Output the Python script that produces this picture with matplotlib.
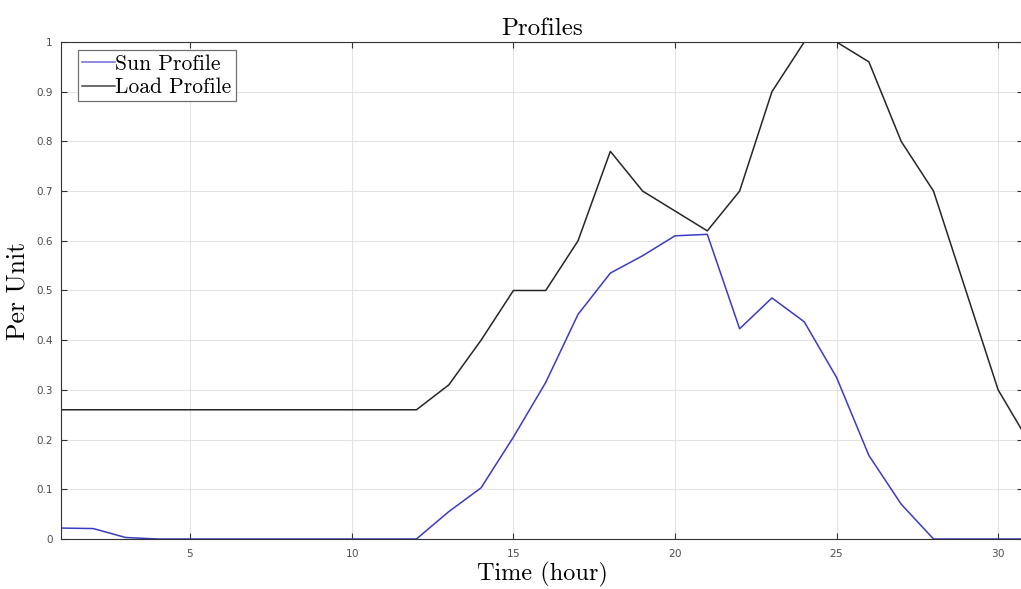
import matplotlib
matplotlib.use('Agg')
import matplotlib.pyplot as plt
import numpy as np

hours = np.arange(1, 32)
sun = [0.022, 0.021, 0.003, 0.0, 0.0, 0.0, 0.0, 0.0, 0.0, 0.0, 0.0, 0.0,
       0.055, 0.103, 0.205, 0.315, 0.452, 0.535, 0.570, 0.610, 0.613,
       0.423, 0.485, 0.437, 0.325, 0.168, 0.070, 0.0, 0.0, 0.0, 0.0]
load = [0.26, 0.26, 0.26, 0.26, 0.26, 0.26, 0.26, 0.26, 0.26, 0.26, 0.26, 0.26,
        0.31, 0.40, 0.50, 0.50, 0.60, 0.78, 0.70, 0.66, 0.62,
        0.70, 0.90, 1.00, 1.00, 0.96, 0.80, 0.70, 0.50, 0.30, 0.19]
xticks = [5, 10, 15, 20, 25, 30]
yticks = np.round(np.arange(0, 1.01, 0.1), 1)
ytick_labels = ['0', '0.1', '0.2', '0.3', '0.4', '0.5', '0.6', '0.7', '0.8', '0.9', '1']

serif = ['cmr10', 'DejaVu Serif']
plt.rcParams['axes.formatter.use_mathtext'] = True

fig = plt.figure(figsize=(10.21, 5.89), dpi=100)
fig.patch.set_facecolor('white')
ax = fig.add_axes([0.0597, 0.0849, 0.9423, 0.8438])

ax.plot(hours, sun, color='#3b3bc4', lw=1.1, label='Sun Profile')
ax.plot(hours, load, color='#262626', lw=1.1, label='Load Profile')

ax.set_xlim(1, 30.77)
ax.set_ylim(0, 1)
ax.set_xticks(xticks)
ax.set_yticks(yticks)
ax.set_yticklabels(ytick_labels)
ax.tick_params(direction='in', length=4, width=0.8, labelsize=7.5,
               labelcolor='#4d4d4d', color='#333333',
               top=True, right=True, pad=6)
ax.grid(True, color='#e3e3e3', lw=0.8)
ax.set_axisbelow(True)
for s in ax.spines.values():
    s.set_color('#333333')
    s.set_linewidth(0.8)

ax.set_title('Profiles', family=serif, fontsize=18, pad=5)
ax.set_xlabel('Time (hour)', family=serif, fontsize=17.5, labelpad=2)
ax.set_ylabel('Per Unit', family=serif, fontsize=18.5, labelpad=5)

leg = ax.legend(loc='upper left', bbox_to_anchor=(0.0175, 0.984),
                prop={'family': serif, 'size': 15.5},
                handlelength=1.55, handletextpad=0.0, borderpad=0.2,
                labelspacing=0.18, borderaxespad=0.0, fancybox=False,
                framealpha=1, edgecolor='#707070')
leg.get_frame().set_linewidth(0.9)
leg.get_lines()[0].set_color('#6a6ad8')
leg.get_lines()[1].set_color('#444444')

fig.savefig('out.png', dpi=100, facecolor='white')
